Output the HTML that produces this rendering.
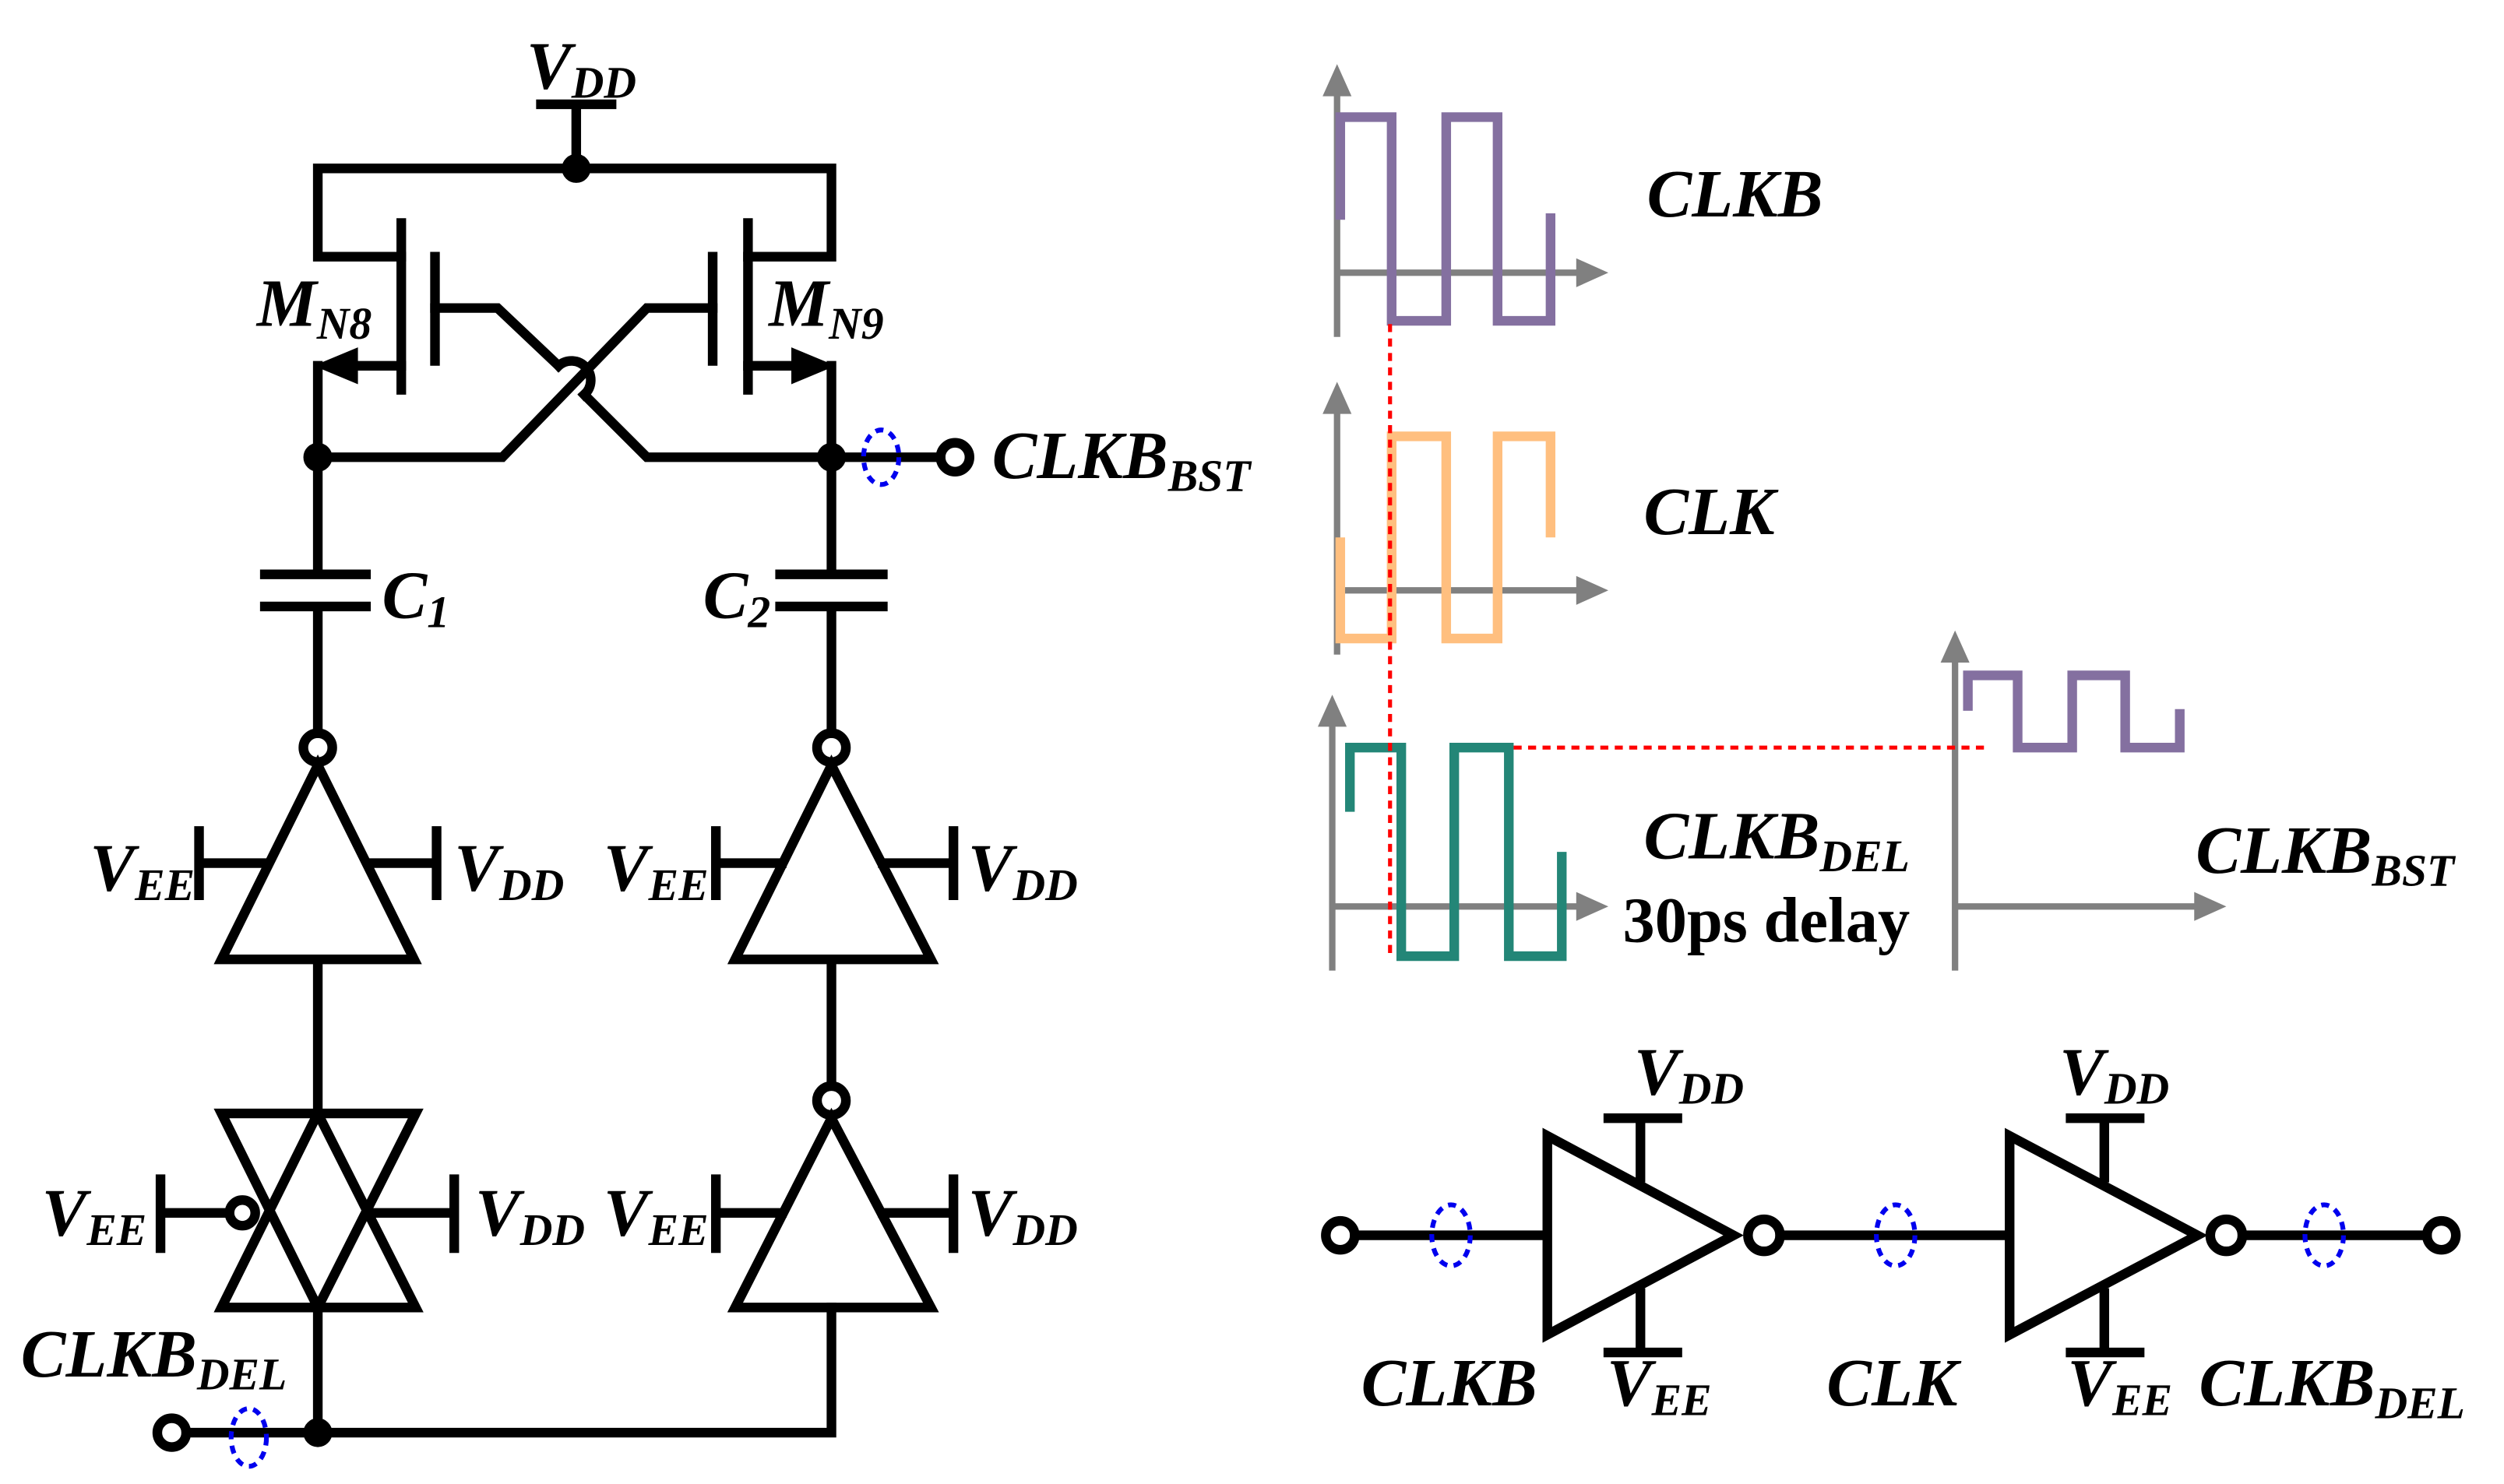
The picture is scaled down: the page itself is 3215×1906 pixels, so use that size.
<!DOCTYPE html>
<html><head><meta charset="utf-8"><style>html,body{margin:0;padding:0;background:#fff}svg{display:block}</style></head><body>
<svg width="3215" height="1906" viewBox="0 0 1560 925" preserveAspectRatio="none" xmlns="http://www.w3.org/2000/svg" font-family="'Liberation Serif',serif" font-weight="bold" font-style="italic">
<g stroke="#000" stroke-width="6" fill="none" stroke-linecap="square">
<path d="M337 65H381M359 65V105M198 105H518M198 105V160H250M518 105V160H466"/>
<circle cx="359" cy="105" r="6" fill="#000"/>
<path d="M250 139V243M271 160V225M444 160V225M466 139V243"/>
<path d="M271 192H310L348 228"/>
<path d="M348 228A10 10 0 0 1 364 246"/>
<path d="M364 246L403 285H518"/>
<path d="M198 285H313L403 192H444"/>
<path d="M250 228H215M198 228V285M466 228H500M518 228V285"/>
<polygon points="198,228 222,218 222,238" fill="#000" stroke-width="2"/>
<polygon points="518,228 494,218 494,238" fill="#000" stroke-width="2"/>
<circle cx="198" cy="285" r="6" fill="#000"/>
<circle cx="518" cy="285" r="6" fill="#000"/>
<path d="M518 285H586"/>
<circle cx="595" cy="285" r="9"/>
<path d="M198 285V358M165 358H228M165 378H228M198 378V457"/>
<path d="M518 285V358M486 358H550M486 378H550M518 378V457"/>
<circle cx="198" cy="466" r="9"/>
<path d="M198 477L138 598H258Z"/>
<path d="M124 518V558M124 538H166M231 538H272M272 518V558"/>
<circle cx="518" cy="466" r="9"/>
<path d="M518 477L458 598H580Z"/>
<path d="M446 518V558M446 538H487M550 538H594M594 518V558"/>
<path d="M198 598V694M138 694H259L198 815ZM138 815H259L198 694Z"/>
<circle cx="151" cy="756" r="8"/>
<path d="M100 735V778M100 756H142M229 756H283M283 735V778"/>
<path d="M518 598V676"/>
<circle cx="518" cy="686" r="9"/>
<path d="M518 697L458 815H580Z"/>
<path d="M446 735V778M446 756H487M550 756H594M594 735V778"/>
<path d="M198 815V893M518 815V893H116"/>
<circle cx="198" cy="893" r="6" fill="#000"/>
<circle cx="107" cy="893" r="9"/>
<path d="M844 770H964M964 708V832L1080 770Z"/>
<circle cx="1099" cy="770" r="10"/>
<path d="M1109 770H1252M1252 708V832L1369 770Z"/>
<circle cx="1387" cy="770" r="10"/>
<path d="M1397 770H1512"/>
<circle cx="1521" cy="770" r="9"/>
<circle cx="835" cy="770" r="9"/>
<path d="M1002 697H1045M1022 697V734M1022 806V843M1002 843H1045"/>
<path d="M1290 697H1333M1311 697V734M1311 806V843M1290 843H1333"/>
</g>
<g stroke="#0000ee" stroke-width="3" fill="none" stroke-dasharray="5 4">
<ellipse cx="549" cy="285" rx="11" ry="17"/>
<ellipse cx="155" cy="896" rx="11" ry="18"/>
<ellipse cx="904" cy="770" rx="12" ry="19"/>
<ellipse cx="1181" cy="770" rx="12" ry="19"/>
<ellipse cx="1448" cy="770" rx="12" ry="19"/>
</g>
<g stroke="#808080" stroke-width="4" fill="none">
<path d="M833 210V55M833 170H985"/>
<path d="M833 408V255M833 368H985"/>
<path d="M830 605V450M830 565H985"/>
<path d="M1218 605V410M1218 565H1370"/>
</g>
<g fill="#808080">
<polygon points="833,40 824,60 842,60"/><polygon points="1002,170 982,161 982,179"/>
<polygon points="833,238 824,258 842,258"/><polygon points="1002,368 982,359 982,377"/>
<polygon points="830,433 821,453 839,453"/><polygon points="1002,565 982,556 982,574"/>
<polygon points="1218,393 1209,413 1227,413"/><polygon points="1387,565 1367,556 1367,574"/>
</g>
<g fill="none" stroke-width="6" stroke-linejoin="miter">
<path stroke="#8470a0" d="M835 137V73H867V200H901V73H933V200H966V133"/>
<path stroke="#ffbf7f" d="M835 335V398H867V272H901V398H933V272H966V335"/>
<path stroke="#238677" d="M841 506V466H873V596H906V466H940V596H973V531"/>
<path stroke="#8470a0" d="M1226 443V421H1257V466H1291V421H1324V466H1358V442"/>
</g>
<g stroke="#ff0000" stroke-width="2.5" stroke-dasharray="5 4" fill="none">
<path d="M866 202V597M943 466H1240"/>
</g>
<g fill="#000" font-size="42">
<text x="328" y="55">V<tspan font-size="28" dy="6">DD</tspan></text>
<text x="160" y="203">M<tspan font-size="28" dy="8">N8</tspan></text>
<text x="479" y="203">M<tspan font-size="28" dy="8">N9</tspan></text>
<text x="618" y="298">CLKB<tspan font-size="28" dy="8">BST</tspan></text>
<text x="238" y="385">C<tspan font-size="28" dy="6">1</tspan></text>
<text x="438" y="385">C<tspan font-size="28" dy="6">2</tspan></text>
<text x="56" y="555">V<tspan font-size="28" dy="6">EE</tspan></text>
<text x="283" y="555">V<tspan font-size="28" dy="6">DD</tspan></text>
<text x="376" y="555">V<tspan font-size="28" dy="6">EE</tspan></text>
<text x="603" y="555">V<tspan font-size="28" dy="6">DD</tspan></text>
<text x="26" y="770">V<tspan font-size="28" dy="6">EE</tspan></text>
<text x="296" y="770">V<tspan font-size="28" dy="6">DD</tspan></text>
<text x="376" y="770">V<tspan font-size="28" dy="6">EE</tspan></text>
<text x="603" y="770">V<tspan font-size="28" dy="6">DD</tspan></text>
<text x="13" y="858">CLKB<tspan font-size="28" dy="8">DEL</tspan></text>
<text x="1026" y="135">CLKB</text>
<text x="1024" y="333">CLK</text>
<text x="1024" y="535">CLKB<tspan font-size="28" dy="8">DEL</tspan></text>
<text x="1011" y="587" font-style="normal" font-size="40">30ps delay</text>
<text x="1368" y="544">CLKB<tspan font-size="28" dy="8">BST</tspan></text>
<text x="1018" y="682">V<tspan font-size="28" dy="6">DD</tspan></text>
<text x="1001" y="876">V<tspan font-size="28" dy="6">EE</tspan></text>
<text x="1283" y="682">V<tspan font-size="28" dy="6">DD</tspan></text>
<text x="1288" y="876">V<tspan font-size="28" dy="6">EE</tspan></text>
<text x="848" y="876">CLKB</text>
<text x="1138" y="876">CLK</text>
<text x="1370" y="876">CLKB<tspan font-size="28" dy="8">DEL</tspan></text>
</g>
</svg>
</body></html>
